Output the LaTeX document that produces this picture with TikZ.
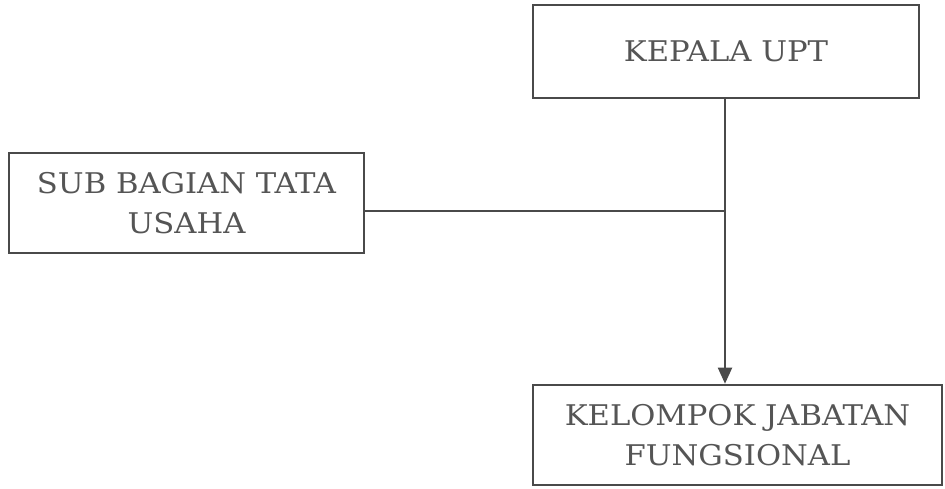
\documentclass[tikz,border=0pt]{standalone}
\usepackage{fontspec}
\setmainfont{DejaVu Serif}[FakeStretch=1.075]
\usetikzlibrary{arrows.meta}
\definecolor{ink}{HTML}{4A4A4A}
\definecolor{txt}{HTML}{555555}
\begin{document}
\begin{tikzpicture}[x=1pt,y=-1pt,
  unit/.style={draw=ink, line width=2.6pt, fill=white, inner sep=0pt,
    align=center, text=txt, font=\fontsize{28.5}{40}\selectfont},
  link/.style={draw=ink, line width=2pt}]
\useasboundingbox (0,0) rectangle (945,488);
\node[unit, minimum width=386, minimum height=93] (kepala) at (726,51.5) {KEPALA UPT};
\node[unit, minimum width=355, minimum height=100] (sub) at (186.5,203) {SUB BAGIAN TATA\\USAHA};
\node[unit, minimum width=409, minimum height=100] (kel) at (737.5,435) {KELOMPOK JABATAN\\FUNGSIONAL};
\coordinate (j) at (725,211);
\draw[link, -{Triangle[length=16pt,width=14pt]}] (j |- kepala.south) -- (j |- kel.north);
\draw[link] (sub.east |- j) -- (j);
\end{tikzpicture}
\end{document}
